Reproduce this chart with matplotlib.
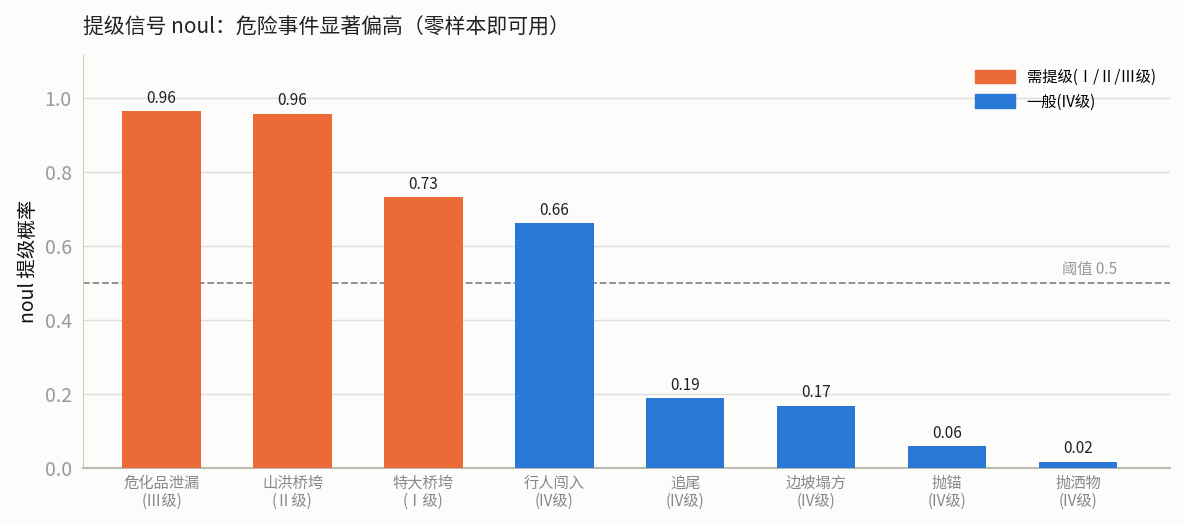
import matplotlib
matplotlib.use("Agg")
import matplotlib.pyplot as plt

plt.rcParams['font.family'] = ['Noto Sans CJK SC', 'DejaVu Sans']

categories = ["危化品泄漏\n(Ⅲ级)", "山洪桥垮\n(Ⅱ级)", "特大桥垮\n(Ⅰ级)", "行人闯入\n(IV级)",
              "追尾\n(IV级)", "边坡塌方\n(IV级)", "抛锚\n(IV级)", "抛洒物\n(IV级)"]
values = [0.964, 0.957, 0.732, 0.662, 0.188, 0.168, 0.059, 0.016]
escalate = [True, True, True, False, False, False, False, False]
threshold = 0.5

orange = "#EC6A37"
blue = "#2A78D6"
bg = "#FCFCFA"

fig = plt.figure(figsize=(11.85, 5.25), dpi=100, facecolor=bg)
ax = fig.add_axes([0.070, 0.109, 0.917, 0.786], facecolor=bg)
x = range(len(values))
colors = [orange if e else blue for e in escalate]
ax.bar(x, values, width=0.6, color=colors, zorder=3)
for i, v in enumerate(values):
    ax.text(i, v + 0.012, f"{v:.2f}", ha="center", va="bottom", fontsize=11, color="#222222", zorder=4)
ax.axhline(threshold, color="#888888", linestyle="--", linewidth=1.3, zorder=2)
ax.text(7.3, threshold + 0.012, "阈值 0.5", ha="right", va="bottom", fontsize=11, color="#999999")
ax.set_ylim(0, 1.116)
ax.set_xlim(-0.6, 7.7)
ax.set_yticks([0, 0.2, 0.4, 0.6, 0.8, 1.0])
ax.set_yticklabels(["0.0", "0.2", "0.4", "0.6", "0.8", "1.0"])
ax.tick_params(axis="y", labelsize=14, colors="#999999", length=0, pad=8)
ax.tick_params(axis="x", labelsize=11, colors="#888888", length=0, pad=5)
ax.set_xticks(list(x))
ax.set_xticklabels(categories, linespacing=1.1)
ax.grid(axis="y", color="#DDDDDD", linewidth=1, zorder=0)
for s in ["top", "right"]:
    ax.spines[s].set_visible(False)
ax.spines["left"].set_color("#CCCCC0")
ax.spines["bottom"].set_color("#BBBBB0")
ax.spines["bottom"].set_linewidth(1.5)
ax.set_ylabel("noul 提级概率", fontsize=14, color="#111111")
from matplotlib.patches import Patch
ax.legend(handles=[Patch(color=orange, label="需提级(Ⅰ/Ⅱ/Ⅲ级)"), Patch(color=blue, label="一般(IV级)")],
          loc="upper right", frameon=False, fontsize=11, handlelength=2.6, handleheight=1.0)
fig.text(0.070, 0.935, "提级信号 noul：危险事件显著偏高（零样本即可用）", fontsize=15, color="#222222")
fig.savefig("out.png", facecolor=bg)
